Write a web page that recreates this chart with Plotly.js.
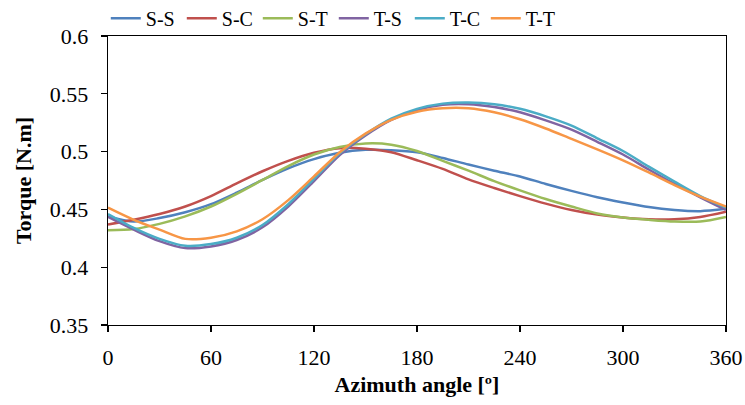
<!DOCTYPE html>
<html>
<head>
<meta charset="utf-8">
<script src="https://cdn.plot.ly/plotly-3.0.1.min.js"></script>
<style>
html,body{margin:0;padding:0;background:#fff;}
</style>
</head>
<body>
<div id="chart" style="width:745px;height:405px;"></div>
<script>
// Azimuth angle (degrees)
const angle = [0, 15, 30, 45, 60, 75, 90, 105, 120, 135, 150, 165, 180, 195, 210, 225, 240, 255, 270, 285, 300, 315, 330, 345, 360];

// Torque [N.m] per configuration
const sS = [0.444, 0.4395, 0.4425, 0.4475, 0.4545, 0.4645, 0.4755, 0.4855, 0.4935, 0.499, 0.5015, 0.5012, 0.4995, 0.4945, 0.4888, 0.4835, 0.4785, 0.472, 0.466, 0.4605, 0.456, 0.452, 0.4495, 0.4485, 0.4505];
const sC = [0.437, 0.441, 0.446, 0.4525, 0.4615, 0.4725, 0.483, 0.492, 0.499, 0.503, 0.5025, 0.4995, 0.4925, 0.485, 0.476, 0.4685, 0.4615, 0.455, 0.4495, 0.4455, 0.443, 0.4415, 0.4415, 0.4435, 0.448];
const sT = [0.432, 0.433, 0.4375, 0.444, 0.4525, 0.4635, 0.4755, 0.4875, 0.4975, 0.504, 0.507, 0.506, 0.5005, 0.492, 0.4835, 0.4745, 0.4665, 0.459, 0.4525, 0.4465, 0.443, 0.441, 0.4395, 0.4395, 0.4435];
const tS = [0.4435, 0.4325, 0.4225, 0.4165, 0.418, 0.4235, 0.4345, 0.4525, 0.4745, 0.497, 0.514, 0.5275, 0.536, 0.5405, 0.541, 0.5385, 0.534, 0.527, 0.519, 0.5085, 0.4975, 0.4845, 0.472, 0.4605, 0.4495];
const tC = [0.446, 0.434, 0.4245, 0.4185, 0.42, 0.4255, 0.4365, 0.4545, 0.4765, 0.4985, 0.515, 0.5285, 0.537, 0.5415, 0.5425, 0.541, 0.537, 0.5305, 0.5225, 0.5115, 0.5005, 0.487, 0.474, 0.4615, 0.4515];
const tT = [0.4515, 0.441, 0.4325, 0.4245, 0.4255, 0.431, 0.4415, 0.458, 0.4785, 0.4995, 0.5155, 0.5275, 0.5345, 0.5375, 0.5375, 0.534, 0.528, 0.52, 0.511, 0.502, 0.4925, 0.482, 0.471, 0.461, 0.4525];

const names = ["S-S", "S-C", "S-T", "T-S", "T-C", "T-T"];
const series = [sS, sC, sT, tS, tC, tT];
const colors = ["#4F81BD", "#C0504D", "#9BBB59", "#8064A2", "#4BACC6", "#F79646"];

const xTicks = [0, 60, 120, 180, 240, 300, 360];
const yTicks = [0.35, 0.4, 0.45, 0.5, 0.55, 0.6];
const yTickText = ["0.35", "0.4", "0.45", "0.5", "0.55", "0.6"];

const traces = series.map((s, i) => ({
  x: angle, y: s, name: names[i], type: "scatter", mode: "lines",
  line: {color: colors[i], width: 2.5, shape: "spline", smoothing: 0.8}
}));

const font = "Liberation Serif, Times New Roman, serif";
const layout = {
  width: 745, height: 405,
  margin: {l: 108, r: 19, t: 36, b: 80, autoexpand: false},
  paper_bgcolor: "#fff", plot_bgcolor: "#fff",
  font: {family: font, size: 22, color: "#000"},
  showlegend: true,
  legend: {orientation: "h", xref: "container", yref: "container", x: 0.142, xanchor: "left", y: 0.955, yanchor: "middle",
           font: {family: font, size: 20, color: "#000"}, itemwidth: 30, entrywidth: 31, entrywidthmode: "pixels",
           bgcolor: "rgba(0,0,0,0)"},
  xaxis: {range: [0, 360], tickvals: xTicks, ticks: "outside", ticklen: 6, tickwidth: 1.3,
          tickcolor: "#000", showline: true, linecolor: "#000", linewidth: 1.3, mirror: true,
          showgrid: false, zeroline: false, ticklabelstandoff: 6, automargin: false,
          tickfont: {family: font, size: 22, color: "#000"},
          title: {text: "<b>Azimuth angle [º]</b>", font: {family: font, size: 22, color: "#000"}, standoff: 8}},
  yaxis: {range: [0.35, 0.6], tickvals: yTicks, ticktext: yTickText, ticks: "outside", ticklen: 6, tickwidth: 1.3,
          tickcolor: "#000", showline: true, linecolor: "#000", linewidth: 1.3, mirror: true,
          showgrid: false, zeroline: false, ticklabelstandoff: 8, automargin: false,
          tickfont: {family: font, size: 22, color: "#000"},
          title: {text: "<b>Torque [N.m]</b>", font: {family: font, size: 22, color: "#000"}, standoff: 12}}
};

Plotly.newPlot("chart", traces, layout, {displayModeBar: false, staticPlot: true});
</script>
</body>
</html>
